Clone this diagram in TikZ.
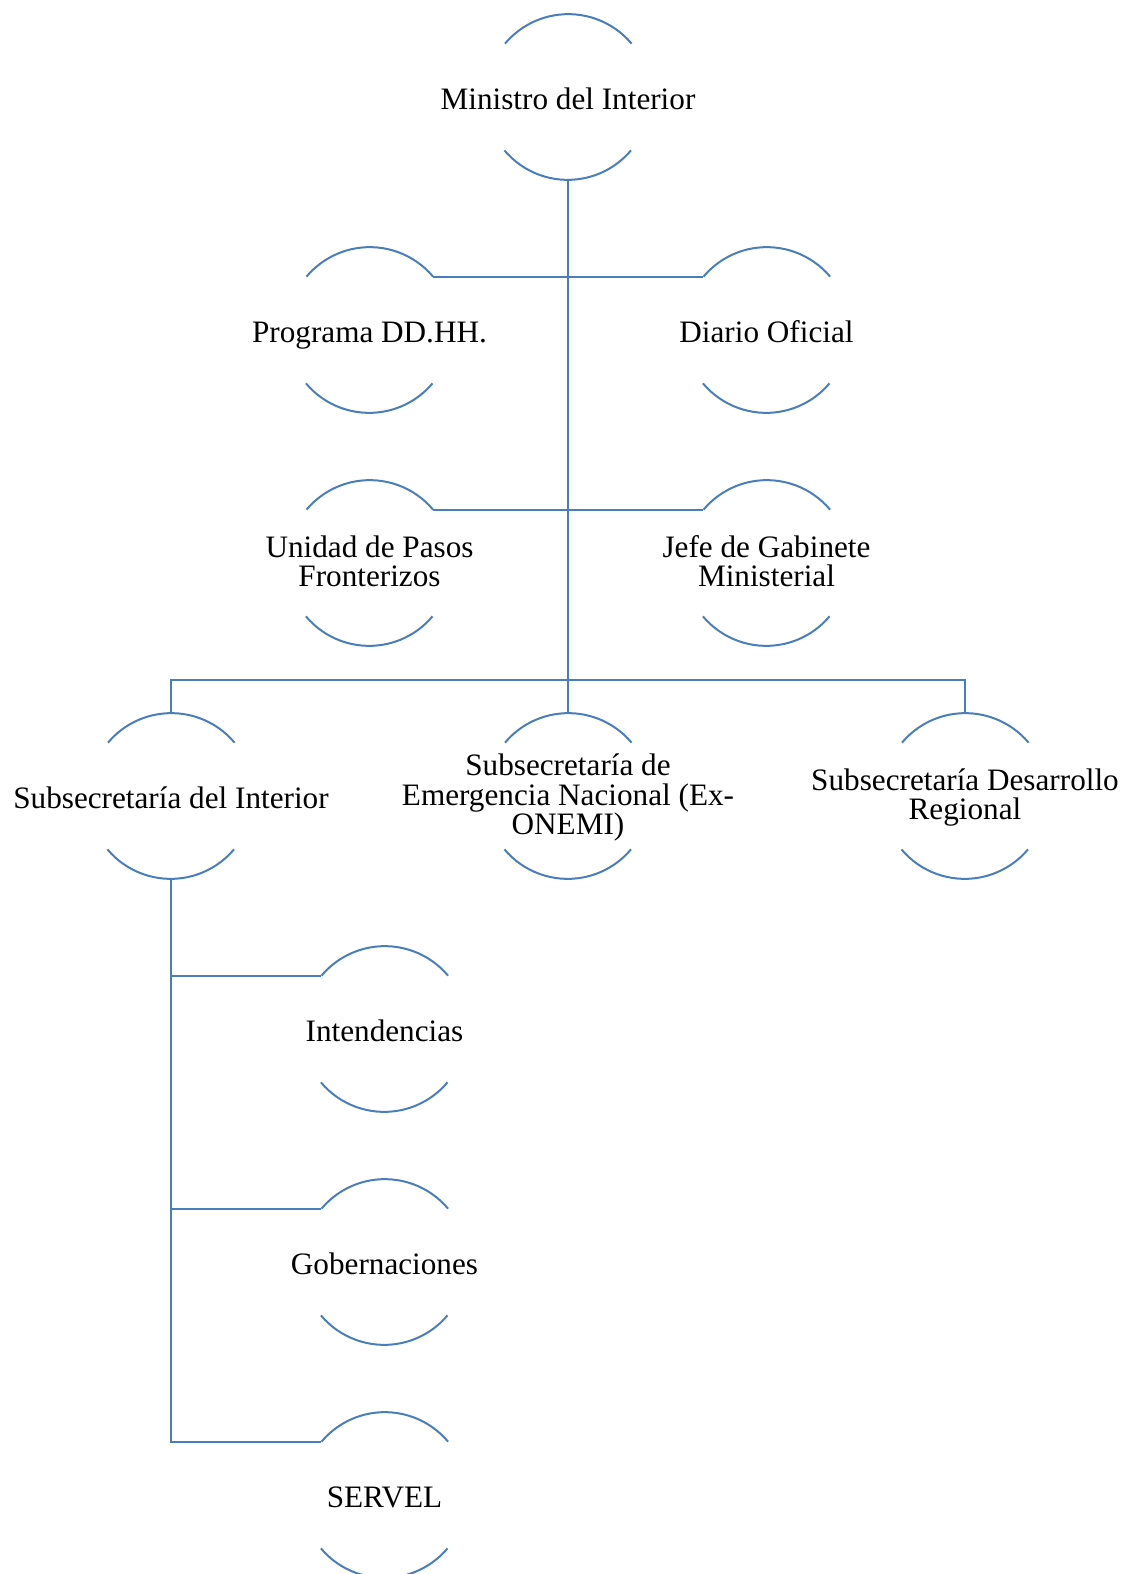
\documentclass[tikz,border=0pt]{standalone}
\usepackage{fontspec}
\setmainfont{Liberation Serif}
\definecolor{lineblue}{RGB}{74,126,187}

\begin{document}
\begin{tikzpicture}[x=0.5pt, y=-0.5pt,
        hub/.style={circle, minimum size=82.6pt, inner sep=0pt,
            label={[hubtext]center:#1}},
        hubtext/.style={align=center, inner sep=0pt, yshift=-1pt, font=\fontsize{15.6}{14.7}\selectfont,
            execute at begin node={\rule{0pt}{14.2pt}},
            execute at end node={\rule[-3.8pt]{0pt}{3.8pt}}},
        link/.style={draw=lineblue, line width=1pt}]

        \useasboundingbox (0,0) rectangle (1125,1574);

        \node[hub={Ministro del Interior}] (minis) at (568,97) {};
        \node[hub={Programa DD.HH.}] (prog) at (369.5,330) {};
        \node[hub={Diario Oficial}] (diar) at (766.5,330) {};
        \node[hub={Unidad de Pasos\\Fronterizos}] (unid) at (369.5,563) {};
        \node[hub={Jefe de Gabinete\\Ministerial}] (jefe) at (766.5,563) {};
        \node[hub={Subsecretaría del Interior}] (sint) at (171,796) {};
        \node[hub={Subsecretaría de\\Emergencia Nacional (Ex-\\ONEMI)}] (semer) at (568,796) {};
        \node[hub={Subsecretaría Desarrollo\\Regional}] (sdes) at (965,796) {};
        \node[hub={Intendencias}] (inten) at (384.5,1029) {};
        \node[hub={Gobernaciones}] (gober) at (384.5,1262) {};
        \node[hub={SERVEL}] (servel) at (384.5,1495) {};
        \coordinate (bar) at (568,679.5);

        % open circles: top and bottom arcs only
        \foreach \n in {minis,prog,diar,unid,jefe,sint,semer,sdes,inten,gober,servel}
            \draw[link] (\n.40) arc[start angle=40, end angle=140, radius=41.3pt]
                (\n.220) arc[start angle=220, end angle=320, radius=41.3pt];

        \draw[link] (minis.south) -- (semer.north);
        \draw[link] (prog.40) -- (diar.140);
        \draw[link] (unid.40) -- (jefe.140);
        \draw[link] (sint.north) |- (bar) -| (sdes.north);
        \draw[link] (sint.south) |- (inten.140);
        \draw[link] (sint.south) |- (gober.140);
        \draw[link] (sint.south) |- (servel.140);
    \end{tikzpicture}
\end{document}
